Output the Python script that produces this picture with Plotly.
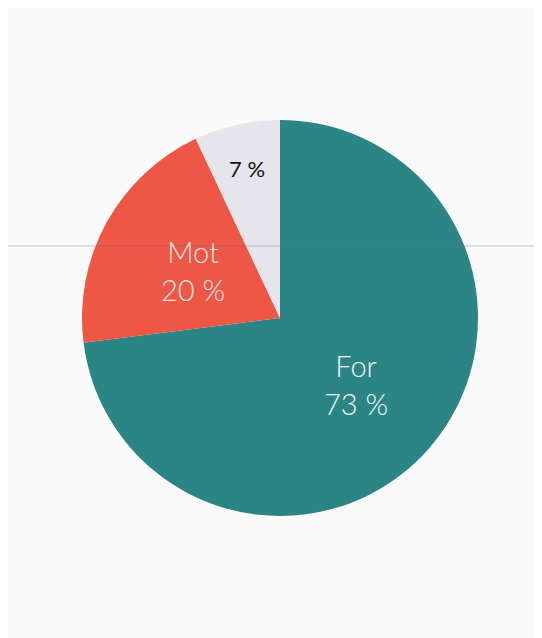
import math
import plotly.graph_objects as go

labels = ["For", "Mot", ""]
values = [73, 20, 7]
texts = ["For<br>73 %", "Mot<br>20 %", "7 %"]
colors = ["#2b8585", "#ee5646", "#e6e5ec"]
text_colors = ["#f2f7f7", "#fbe9e6", "#111111"]
text_sizes = [29, 29, 22]
text_weights = [300, 300, 400]
label_radius = [0.51, 0.50, 0.775]   # fraction of pie radius for label placement

W, H = 542, 638
# page offset of ~8px, so positions are relative to figure origin
cx, cy, r = 272, 310, 198

fig = go.Figure(go.Pie(
    labels=labels,
    values=values,
    textinfo="none",
    sort=False,
    direction="clockwise",
    rotation=0,
    marker=dict(colors=colors, line=dict(width=0)),
    hoverinfo="none",
    showlegend=False,
    domain=dict(x=[(cx - r) / W, (cx + r) / W], y=[(H - cy - r) / H, (H - cy + r) / H]),
))

# place labels at the mid-angle of each slice (derived from the values)
total = sum(values)
cum = 0
for v, t, c, s, w, fr in zip(values, texts, text_colors, text_sizes, text_weights, label_radius):
    mid = (cum + v / 2) / total * 2 * math.pi
    cum += v
    dx = math.sin(mid) * r * fr
    dy = math.cos(mid) * r * fr
    fig.add_annotation(
        x=(cx + dx) / W, y=(H - cy + dy) / H, xref="paper", yref="paper",
        text=t, showarrow=False, xanchor="center", yanchor="middle",
        font=dict(color=c, size=s, family="Lato, Open Sans, sans-serif", weight=w),
        align="center",
    )

fig.add_shape(type="line", xref="paper", yref="paper", x0=0, x1=1, y0=(H - 238) / H, y1=(H - 238) / H,
              line=dict(color="rgba(120,120,120,0.28)", width=1.5), layer="above")

fig.update_layout(
    width=W, height=H,
    margin=dict(l=0, r=0, t=0, b=0),
    paper_bgcolor="#fafafa",
    plot_bgcolor="#fafafa",
)

fig.write_html("out.html")
